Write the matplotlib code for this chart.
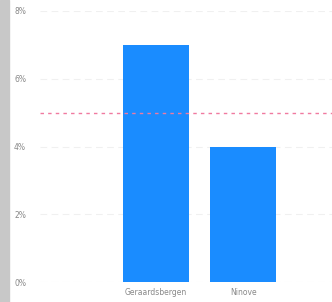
import matplotlib
matplotlib.use('Agg')
import matplotlib.pyplot as plt
from matplotlib.patches import Rectangle
from matplotlib.ticker import FuncFormatter

# Data.
cities = ['Geraardsbergen', 'Ninove']
values = [7.0, 4.0]
target = 5.0
yticks = [0, 2, 4, 6, 8]

W, H = 332, 302
fig = plt.figure(figsize=(W / 100, H / 100), dpi=100)
fig.patches.append(Rectangle((0, 0), 9 / W, 1, transform=fig.transFigure,
                             color='#c8c8c8', zorder=0))

ax = fig.add_axes([40 / W, 20 / H, 292 / W, 271 / H])
ax.bar(range(len(cities)), values, width=0.76, color='#1a8cff', zorder=3)
ax.axhline(target, color='#f07aa0', linestyle=(0, (2.5, 3)), linewidth=1, zorder=4)

ax.set_ylim(0, 8)
ax.set_xlim(-1.33, 2.02)
ax.set_yticks(yticks)
ax.yaxis.set_major_formatter(FuncFormatter(lambda v, p: '{:.0f}%'.format(v)))
ax.set_xticks(range(len(cities)))
ax.set_xticklabels(cities)
ax.tick_params(length=0, labelsize=5.5, labelcolor='#888888', pad=4)
ax.tick_params(axis='y', pad=10)
ax.grid(axis='y', color='#f0f0f0', linestyle=(0, (6, 4)), linewidth=0.8, zorder=0)
for s in ax.spines.values():
    s.set_visible(False)

fig.savefig('out.png', dpi=100)
